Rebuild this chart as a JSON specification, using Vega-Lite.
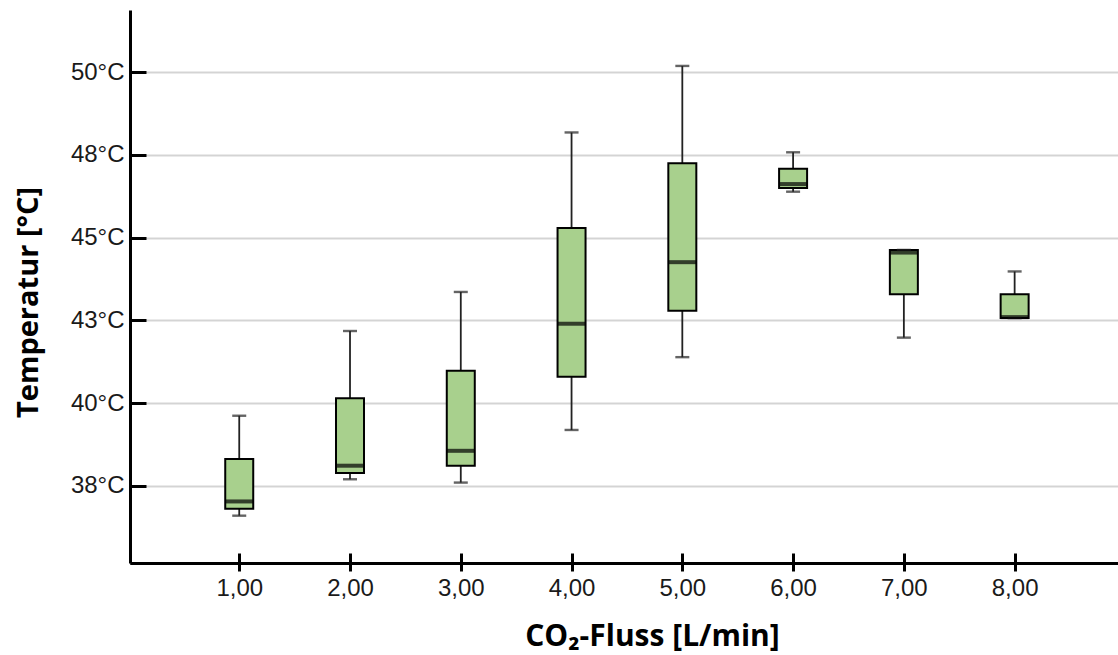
{
  "$schema": "https://vega.github.io/schema/vega-lite/v6.json",
  "width": 988,
  "height": 553,
  "autosize": {"type": "none"},
  "padding": {"left": 130, "top": 10, "right": 0, "bottom": 92},
  "background": "white",
  "config": {
    "view": {"stroke": null},
    "axis": {"labelFont": "Liberation Sans", "labelFontSize": 24, "labelColor": "#1a1a1a", "titleFont": "Open Sans", "titleFontWeight": "bold", "titleColor": "#000000"},
    "axisX": {"tickColor": "#000000", "tickSize": 18, "tickWidth": 3},
    "axisY": {"tickColor": "#000000", "tickSize": -16, "tickWidth": 3}
  },
  "data": {
    "values": [
      {"flow": 1, "lower": 36.60, "q1": 36.81, "median": 37.03, "q3": 38.31, "upper": 39.62},
      {"flow": 2, "lower": 37.70, "q1": 37.89, "median": 38.11, "q3": 40.15, "upper": 42.18},
      {"flow": 3, "lower": 37.60, "q1": 38.11, "median": 38.56, "q3": 40.98, "upper": 43.36},
      {"flow": 4, "lower": 39.19, "q1": 40.80, "median": 42.40, "q3": 45.29, "upper": 48.18},
      {"flow": 5, "lower": 41.39, "q1": 42.79, "median": 44.26, "q3": 47.25, "upper": 50.19},
      {"flow": 6, "lower": 46.39, "q1": 46.50, "median": 46.62, "q3": 47.08, "upper": 47.58},
      {"flow": 7, "lower": 41.98, "q1": 43.29, "median": 44.55, "q3": 44.63, "upper": 44.63},
      {"flow": 8, "lower": 42.57, "q1": 42.57, "median": 42.60, "q3": 43.29, "upper": 43.98}
    ]
  },
  "layer": [
    {
      "mark": {"type": "rule", "color": "#222222", "strokeWidth": 1.8},
      "encoding": {
        "x": {
          "field": "flow",
          "type": "quantitative",
          "scale": {"domain": [0.059, 8.888], "nice": false, "zero": false},
          "axis": {
            "values": [1, 2, 3, 4, 5, 6, 7, 8],
            "labelExpr": "replace(format(datum.value, '.2f'), '.', ',')",
            "domain": false,
            "grid": false,
            "offset": -10,
            "labelPadding": 24,
            "labelBaseline": "alphabetic",
            "title": "CO₂-Fluss [L/min]",
            "titleFontSize": 30,
            "titleX": 522,
            "titleY": 92,
            "titleAlign": "center",
            "titleBaseline": "alphabetic"
          }
        },
        "y": {
          "field": "lower",
          "type": "quantitative",
          "scale": {"domain": [35.17, 51.88], "nice": false, "zero": false},
          "axis": {
            "values": [35.17, 37.5, 40, 42.5, 45, 47.5, 50],
            "labelExpr": "datum.value < 36 ? '' : format(datum.value, '.0f') + '°C'",
            "domainColor": "#000000",
            "domainWidth": 3,
            "grid": true,
            "gridColor": "#000000",
            "gridOpacity": {"condition": {"test": "datum.value < 36", "value": 1}, "value": 0.17},
            "gridWidth": {"condition": {"test": "datum.value < 36", "value": 3}, "value": 2},
            "labelPadding": 22,
            "title": "Temperatur [°C]",
            "titleFontSize": 29,
            "titleAngle": -90,
            "titleX": -93,
            "titleY": 292,
            "titleAlign": "center",
            "titleBaseline": "alphabetic"
          }
        },
        "y2": {"field": "upper"}
      }
    },
    {
      "mark": {"type": "bar", "width": 28, "fill": "#a8d08d", "stroke": "#000000", "strokeWidth": 2},
      "encoding": {
        "x": {"field": "flow", "type": "quantitative"},
        "y": {"field": "q1", "type": "quantitative"},
        "y2": {"field": "q3"}
      }
    },
    {
      "mark": {"type": "tick", "orient": "horizontal", "size": 14, "thickness": 2.4, "color": "#222222"},
      "encoding": {"x": {"field": "flow", "type": "quantitative"}, "y": {"field": "lower", "type": "quantitative"}}
    },
    {
      "mark": {"type": "tick", "orient": "horizontal", "size": 14, "thickness": 2.4, "color": "#222222"},
      "encoding": {"x": {"field": "flow", "type": "quantitative"}, "y": {"field": "upper", "type": "quantitative"}}
    },
    {
      "mark": {"type": "tick", "orient": "horizontal", "size": 28, "thickness": 4, "color": "#000000"},
      "encoding": {"x": {"field": "flow", "type": "quantitative"}, "y": {"field": "median", "type": "quantitative"}}
    }
  ]
}
